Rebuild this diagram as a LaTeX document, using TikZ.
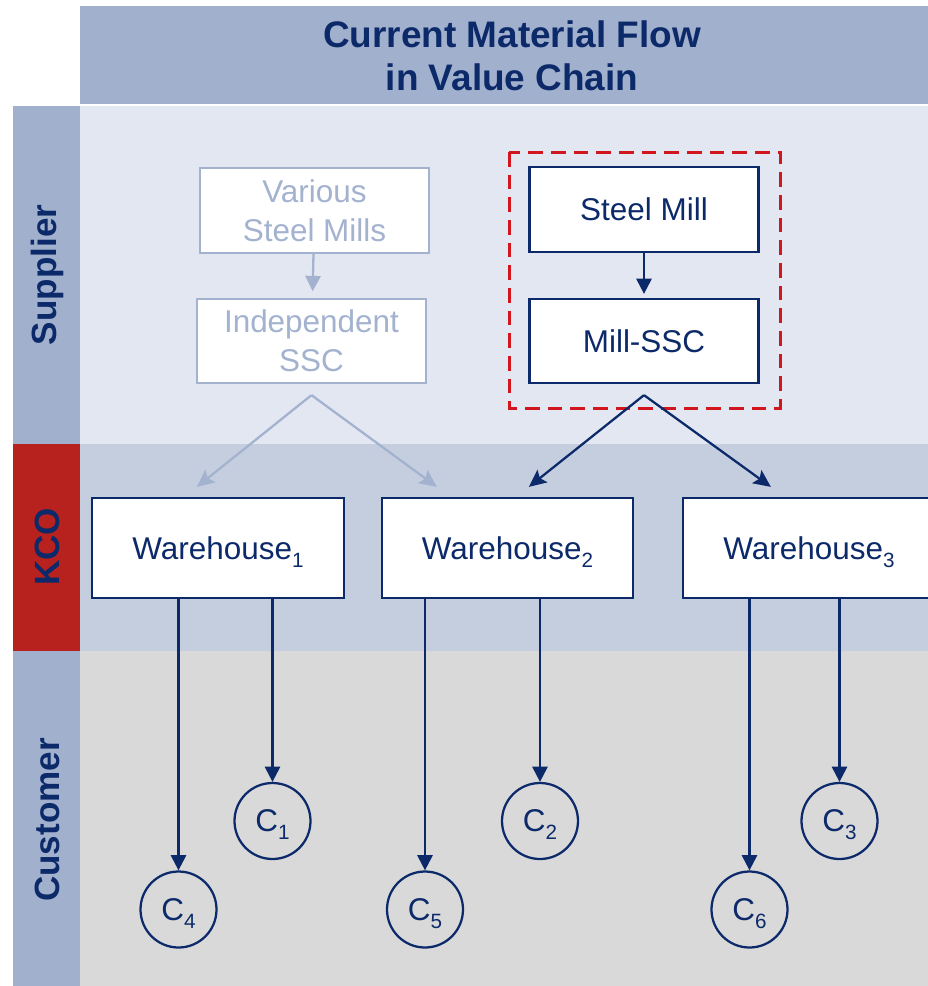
\documentclass[tikz,border=0pt]{standalone}
\usepackage{fontspec}
\setmainfont{Liberation Sans}
\usetikzlibrary{arrows.meta,calc}
\definecolor{navy}{HTML}{0C2A6A}
\definecolor{lightc}{HTML}{A3B2CF}
\definecolor{titlebg}{HTML}{A1B0CC}
\definecolor{supbg}{HTML}{E3E7F1}
\definecolor{kcobg}{HTML}{C5CEDF}
\definecolor{custbg}{HTML}{D9D9D9}
\definecolor{kcored}{HTML}{B7211E}
\definecolor{dashred}{HTML}{D2161D}
\newlength\pu
\setlength\pu{0.75pt}
\newcommand\lowsub[1]{\raisebox{-6pt}[0pt][0pt]{\fontsize{15.5}{16}\selectfont #1}}
\tikzset{
  lbl/.style={text=navy, font=\fontsize{23.6}{29.3}\selectfont},
  darkbox/.style={draw=navy, line width=1.7pt, fill=white, inner sep=0pt, lbl, align=center},
  lightbox/.style={draw=lightc, line width=1.7pt, fill=white, inner sep=0pt, align=center,
    text=lightc, font=\fontsize{23.6}{29.3}\selectfont},
  cust/.style={circle, draw=navy, line width=1.7pt, minimum size=76\pu, inner sep=0pt, lbl},
  flow/.style={draw=navy, line width=1.7pt, -{Triangle[length=11.5pt,width=11.5pt]}},
  flowd/.style={draw=navy, line width=1.7pt, -{Stealth[length=13pt,width=12pt,inset=2.5pt]}},
  lflow/.style={draw=lightc, line width=1.7pt, -{Stealth[length=13pt,width=12pt,inset=2.5pt]}},
  lflowv/.style={draw=lightc, line width=1.7pt, -{Triangle[length=11.5pt,width=11.5pt]}},
  side/.style={rotate=90, text=navy, font=\bfseries\fontsize{26.3}{30}\selectfont},
  titletext/.style={text=navy, align=center, font=\bfseries\fontsize{27.7}{32.2}\selectfont},
  regionbox/.style={draw=dashred, line width=2.25pt, dash pattern=on 11pt off 6pt},
}
\begin{document}
\begin{tikzpicture}[x=0.75pt,y=-0.75pt]
\useasboundingbox (0,0) rectangle (928,986);
% backgrounds
\fill[titlebg] (80,6) rectangle (928,104);
\fill[supbg] (80,106) rectangle (928,444);
\fill[kcobg] (80,444) rectangle (928,651);
\fill[custbg] (80,651) rectangle (928,986);
\fill[titlebg] (13,106) rectangle (80,444);
\fill[kcored] (13,444) rectangle (80,651);
\fill[titlebg] (13,651) rectangle (80,986);
% title and row labels
\node[titletext] (title) at (512,56) {Current Material Flow\\in Value Chain};
\node[side] (lsup) at (47,275) {Supplier};
\node[side] (lkco) at (47,547) {KCO};
\node[side] (lcust) at (47,820) {Customer};
% supplier boxes
\node[lightbox, minimum width=229\pu, minimum height=85\pu] (VSM) at (314.5,210.5) {Various\\Steel Mills};
\node[lightbox, minimum width=229\pu, minimum height=84\pu] (ISSC) at (311.5,341) {Independent\\SSC};
\node[darkbox, minimum width=229\pu, minimum height=85\pu] (SM) at (644,209.5) {Steel Mill};
\node[darkbox, minimum width=229\pu, minimum height=84\pu] (MSSC) at (644,341) {Mill-SSC};
\draw[regionbox] (509,152) rectangle (780,408);
% warehouses
\node[darkbox, minimum width=252\pu, minimum height=100\pu] (W1) at (218,548) {Warehouse\lowsub{1}};
\node[darkbox, minimum width=251\pu, minimum height=100\pu] (W2) at (507.5,548) {Warehouse\lowsub{2}};
\node[darkbox, minimum width=252\pu, minimum height=100\pu] (W3) at (809,548) {Warehouse\lowsub{3}};
% customers
\node[cust] (C1) at (272.5,821) {C\lowsub{1}};
\node[cust] (C2) at (540,821) {C\lowsub{2}};
\node[cust] (C3) at (839.5,821) {C\lowsub{3}};
\node[cust] (C4) at (178.5,909.5) {C\lowsub{4}};
\node[cust] (C5) at (425,909.5) {C\lowsub{5}};
\node[cust] (C6) at (749.5,909.5) {C\lowsub{6}};
% split points and arrow tips
\coordinate (isp) at ($(ISSC.south)+(0,11)$);
\coordinate (msp) at ($(MSSC.south)+(0,11)$);
\coordinate (t1) at ($(W1.north west)+(106,-10)$);
\coordinate (t2a) at ($(W2.north west)+(56,-10)$);
\coordinate (t2b) at ($(W2.north west)+(148,-10)$);
\coordinate (t3) at ($(W3.north west)+(89,-10)$);
% supplier connectors
\draw[lflowv, shorten >=5pt] (VSM) -- (ISSC);
\draw[flow, shorten >=3pt] (SM) -- (MSSC);
\draw[lflow] (isp) -- (t1);
\draw[lflow] (isp) -- (t2a);
\draw[flowd] (msp) -- (t2b);
\draw[flowd] (msp) -- (t3);
% warehouse to customer
\draw[flow] (W1.south -| C4.north) -- (C4.north);
\draw[flow] (W1.south -| C1.north) -- (C1.north);
\draw[flow] (W2.south -| C5.north) -- (C5.north);
\draw[flow] (W2.south -| C2.north) -- (C2.north);
\draw[flow] (W3.south -| C6.north) -- (C6.north);
\draw[flow] (W3.south -| C3.north) -- (C3.north);
\end{tikzpicture}
\end{document}
